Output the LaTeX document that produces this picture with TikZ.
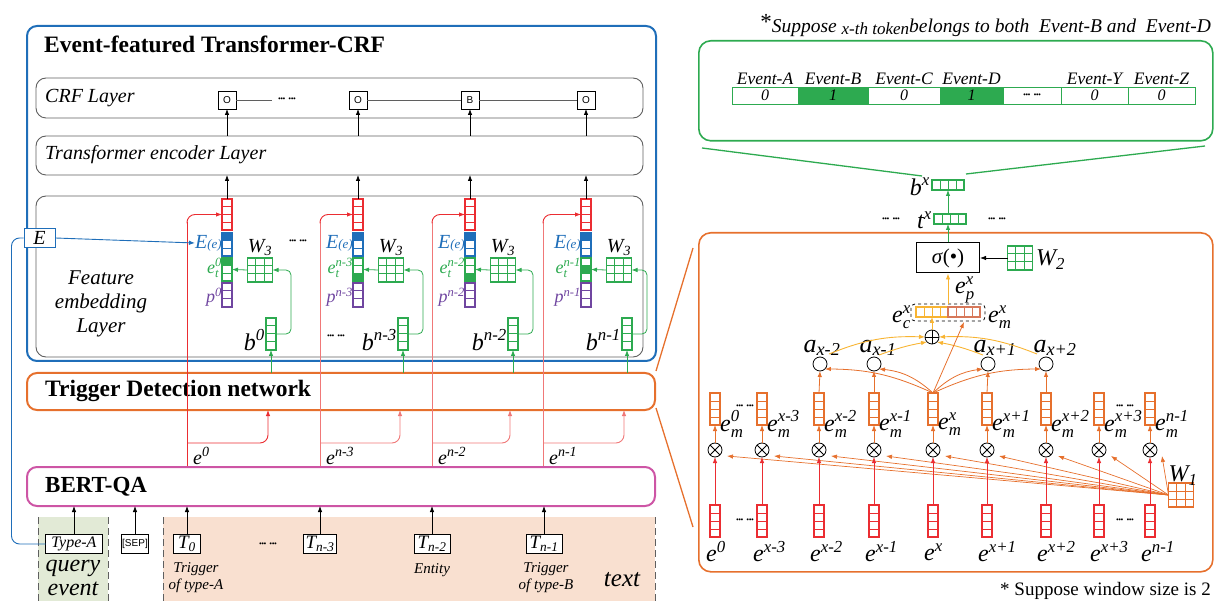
\documentclass[tikz,border=0pt]{standalone}
\usepackage{amsmath}
\usepackage{fontspec}
\setmainfont{Liberation Serif}
\setsansfont{Liberation Sans}
\usetikzlibrary{arrows.meta,calc}
\definecolor{cblue}{RGB}{31,110,185}
\definecolor{corange}{RGB}{230,112,45}
\definecolor{cpink}{RGB}{205,85,165}
\definecolor{cred}{RGB}{235,45,50}
\definecolor{lred}{RGB}{240,120,120}
\definecolor{cgreen}{RGB}{45,170,80}
\definecolor{cpurple}{RGB}{112,70,160}
\definecolor{cyellow}{RGB}{248,180,50}
\definecolor{cbrown}{RGB}{215,120,90}
\definecolor{cgray}{RGB}{95,95,95}
\definecolor{qfill}{RGB}{226,234,214}
\definecolor{tfill}{RGB}{249,224,208}
\newcommand\tx[1]{\text{\itshape #1}}
\newcommand\fs[1]{\fontsize{#1}{#1}\selectfont}
\newcommand\dd{{\fs{8}\textbullet\kern-0.5pt\textbullet\kern-0.5pt\textbullet\kern3pt\textbullet\kern-0.5pt\textbullet\kern-0.5pt\textbullet}}
% vertical vector: name,x,y,n,color,fillidx,cellh
\newcommand\vvec[7]{%
  \node[draw=#5,line width=1.2pt,minimum width=10pt,minimum height={#4*#7pt},inner sep=0pt,outer sep=0pt] (#1) at (#2,#3) {};
  \ifnum#6>0
    \fill[#5] ([yshift={-(#6-1)*#7pt}]#1.north west) rectangle ([yshift={-#6*#7pt}]#1.north east);
  \fi
  \pgfmathtruncatemacro\vvm{#4-1}%
  \foreach \k in {1,...,\vvm}{\draw[#5,line width=1pt] ([yshift={-\k*#7pt}]#1.north west) -- ([yshift={-\k*#7pt}]#1.north east);}
}
% horizontal vector: name,x,y,n,color,cellw
\newcommand\hvec[6]{%
  \node[draw=#5,line width=1.2pt,minimum width={#4*#6pt},minimum height=10pt,inner sep=0pt,outer sep=0pt] (#1) at (#2,#3) {};
  \pgfmathtruncatemacro\vvm{#4-1}%
  \foreach \k in {1,...,\vvm}{\draw[#5,line width=1pt] ([xshift={\k*#6pt}]#1.north west) -- ([xshift={\k*#6pt}]#1.south west);}
}
% 3x3 grid: name,x,y,color
\newcommand\grid[4]{%
  \node[draw=#4,line width=1.2pt,fill=white,minimum width=25pt,minimum height=24pt,inner sep=0pt,outer sep=0pt] (#1) at (#2,#3) {};
  \foreach \k in {1,2}{\draw[#4,line width=1pt] ([xshift={\k*25/3pt}]#1.north west) -- ([xshift={\k*25/3pt}]#1.south west);
    \draw[#4,line width=1pt] ([yshift={-\k*8pt}]#1.north west) -- ([yshift={-\k*8pt}]#1.north east);}
}
\begin{document}
\begin{tikzpicture}[x=1pt,y=-1pt,
  arr/.style={-{Latex[length=6pt,width=4.5pt]}},
  lay/.style={draw=cgray,line width=0.9pt,rounded corners=10pt,anchor=north west,inner sep=0pt,outer sep=0pt},
  big/.style={line width=2pt,rounded corners=10pt,anchor=north west,inner sep=0pt,outer sep=0pt},
  lbl/.style={inner sep=0pt,font=\itshape\fs{18}},
  lblb/.style={inner sep=0pt,font=\itshape\fs{24}},
  tok/.style={draw,fill=white,line width=0.8pt,minimum height=19pt,inner sep=1pt,outer sep=0pt},
  ecell/.style={draw=cgreen,line width=0.9pt,minimum height=17pt,inner sep=0pt,outer sep=0pt,font=\itshape\fs{16}},
  crc/.style={circle,draw,line width=0.8pt,minimum size=14pt,inner sep=0pt,outer sep=0pt},
  dashl/.style={draw=cgray,line width=1pt,dash pattern=on 7pt off 4pt},
  obox/.style={draw,fill=white,line width=0.8pt,minimum width=18pt,minimum height=18pt,inner sep=0pt,outer sep=0pt,font=\sffamily\fs{10}}
]
\useasboundingbox (0,0) rectangle (1218,601);

% ---------- bottom input regions ----------
\fill[qfill] (38,517) rectangle (108,601);
\fill[tfill] (163,517) rectangle (655,601);
\draw[dashl] (38,517) -- (38,601);
\draw[dashl] (108,517) -- (108,601);
\draw[dashl] (163,517) -- (163,601);
\draw[dashl] (655,517) -- (655,601);

% ---------- left layer boxes ----------
\node[big,draw=cblue,minimum width=629pt,minimum height=335pt] (outer) at (27,26) {};
\node[lay,minimum width=607pt,minimum height=40pt] (crf) at (36,78) {};
\node[lay,minimum width=607pt,minimum height=39pt] (tr) at (36,136) {};
\node[lay,minimum width=607pt,minimum height=161pt] (fe) at (36,196) {};
\node[big,draw=corange,minimum width=628pt,minimum height=37pt] (td) at (27,373) {};
\node[big,draw=cpink,minimum width=628pt,minimum height=39pt] (bert) at (27,467) {};

\node[anchor=west,inner sep=0pt,font=\bfseries\fs{23.5}] (t1) at (44,44) {Event-featured Transformer-CRF};
\node[anchor=west,inner sep=0pt,font=\itshape\fs{20}] (t2) at (45,98) {CRF Layer};
\node[anchor=west,inner sep=0pt,font=\itshape\fs{20}] (t3) at (45,155) {Transformer encoder Layer};
\node[align=center,inner sep=0pt,font=\itshape\fontsize{21}{24}\selectfont] (t4) at (101,304) {Feature\\embedding\\Layer};
\node[anchor=west,inner sep=0pt,font=\bfseries\fs{23.5}] (t5) at (45,391) {Trigger Detection network};
\node[anchor=west,inner sep=0pt,font=\bfseries\fs{23}] (t6) at (45,487) {BERT-QA};

% ---------- CRF tags ----------
\node[obox] (o0) at (227,100) {O};
\node[obox] (o1) at (358,100) {O};
\node[obox] (o2) at (470,100) {B};
\node[obox] (o3) at (586,100) {O};
\node[inner sep=0pt] (cd) at (287,100) {\dd};
\draw[cgray,line width=0.8pt] (o0.east) -- ([xshift=-6pt]cd.west);
\draw[cgray,line width=0.8pt] (o1.east) -- (o2.west);
\draw[cgray,line width=0.8pt] (o2.east) -- (o3.west);

% ---------- E box ----------
\node[draw=cblue,fill=white,line width=1pt,minimum width=31pt,minimum height=19pt,inner sep=0pt,font=\itshape\fs{20}] (E) at (39.5,238) {E};

% ---------- feature columns ----------
\foreach \c/\cx/\su/\gf/\lx/\bx/\rc in {0/227/0/1/187/271/cred, 1/358/n-3/3/320/403/lred, 2/470/n-2/3/432/513/lred, 3/586/n-1/2/543/627/lred}{
  \vvec{r\c}{\cx}{214.5}{4}{cred}{0}{7.75}
  \vvec{eb\c}{\cx}{244.5}{3}{cblue}{1}{7.67}
  \vvec{et\c}{\cx}{269.5}{3}{cgreen}{\gf}{7.67}
  \vvec{pp\c}{\cx}{295}{3}{cpurple}{0}{8}
  \grid{w\c}{\cx+33}{270}{cgreen}
  \vvec{b\c}{\bx}{334}{4}{cgreen}{0}{8}
  \node[inner sep=0pt,font=\itshape\fs{20},anchor=south] (wl\c) at ({\cx+33},256) {$\tx{W}_{\tx{3}}$};
  \node[anchor=east,inner sep=0pt,text=cblue,font=\itshape\fs{20}] (ee\c) at ({\cx-5},243) {E\fs{13}(e)};
  \node[lbl,anchor=east,text=cgreen] (etl\c) at ({\cx-5},268) {$\tx{e}^{\tx{\su}}_{\tx{t}}$};
  \node[lbl,anchor=east,text=cpurple] (pl\c) at ({\cx-5},297) {$\tx{p}^{\tx{\su}}$};
  \node[lblb,anchor=east] (bl\c) at ({\bx-6},340) {$\tx{b}^{\tx{\su}}$};
  \node[inner sep=0pt,font=\itshape\fs{20},anchor=west] (el\c) at ({\lx+6},456) {$\tx{e}^{\tx{\su}}$};
  \draw[cgreen,arr,line width=0.8pt,rounded corners=5pt] (b\c.east) -| ({\bx+20},270) -- (w\c.east);
  \draw[cgreen,arr,line width=0.8pt] (w\c.west) -- (et\c.east);
  \draw[arr,line width=0.8pt] (r\c.north) -- (r\c.north |- tr.south);
  \draw[arr,line width=0.8pt] (o\c.south |- tr.north) -- (o\c.south);
  \draw[cgreen,arr,line width=0.8pt] (b\c.south |- td.north) -- (b\c.south);
  \coordinate (ls\c) at (\lx,466);
  \coordinate (lb\c) at (\lx,443);
  \coordinate (lt\c) at ({\bx-3},410);
  \draw[\rc,line width=0.9pt] (ls\c) -- ([yshift=-8pt]ls\c |- r\c.west);
  \draw[cred,arr,line width=0.9pt,rounded corners=8pt] ([yshift=-9pt]ls\c |- r\c.west) |- (r\c.west);
  \draw[\rc,arr,line width=0.9pt,rounded corners=8pt] (lb\c) -| (lt\c);
}
\draw[cblue,arr,line width=0.9pt] (E.east) -- (ee0.west);
\node[inner sep=0pt] (fd1) at (298,242) {\dd};
\node[inner sep=0pt] (fd2) at (336,337) {\dd};

% ---------- tokens ----------
\node[tok,minimum width=57pt,font=\itshape\fs{16}] (typea) at (74,544) {Type-A};
\node[tok,minimum width=25pt,font=\sffamily\fs{10}] (sep) at (135,544) {[SEP]};
\node[tok,minimum width=27pt,font=\itshape\fs{19}] (tk0) at (187,544) {$\tx{T}_{\tx{0}}$};
\node[tok,minimum width=33pt,font=\itshape\fs{19}] (tk1) at (320,544) {$\tx{T}_{\tx{n-3}}$};
\node[tok,minimum width=36pt,font=\itshape\fs{19}] (tk2) at (432,544) {$\tx{T}_{\tx{n-2}}$};
\node[tok,minimum width=36pt,font=\itshape\fs{19}] (tk3) at (544,544) {$\tx{T}_{\tx{n-1}}$};
\foreach \n in {typea,sep,tk0,tk1,tk2,tk3}{\draw[arr,line width=0.8pt] (\n.north) -- (\n.north |- bert.south);}
\node[inner sep=0pt] (td1) at (268,545) {\dd};
\draw[cblue,line width=0.9pt,rounded corners=8pt] (E.west) -- ++(-12,0) |- (typea.west);
\node[align=center,inner sep=0pt,font=\itshape\fontsize{15}{17}\selectfont] (lt0) at (196,578) {Trigger\\of type-A};
\node[inner sep=0pt,font=\itshape\fs{15}] (lt2) at (432,570) {Entity};
\node[align=center,inner sep=0pt,font=\itshape\fontsize{15}{17}\selectfont] (lt3) at (546,578) {Trigger\\of type-B};
\node[inner sep=0pt,font=\itshape\fs{25}] (ltx) at (622,580) {text};
\node[align=center,inner sep=0pt,font=\itshape\fontsize{24}{24}\selectfont] (lq) at (73,578) {query\\event};

% ---------- right: green event box ----------
\node[anchor=east,inner sep=0pt,font=\itshape\fs{19.5}] (note) at (1211,26) {{\upshape\fs{23}\raisebox{3pt}{*}}Suppose {\fs{17}\raisebox{-2pt}{x-th token}}belongs to both\ \ Event-B and\ \ Event-D};
\node[draw=cgreen,line width=1.6pt,rounded corners=12pt,minimum width=514pt,minimum height=100pt,anchor=north west,inner sep=0pt] (gbox) at (698,40) {};
\node[ecell,minimum width=66pt] (c1) at (765,95.5) {0};
\node[ecell,minimum width=70pt,fill=cgreen] (c2) at (833,95.5) {1};
\node[ecell,minimum width=72pt] (c3) at (904,95.5) {0};
\node[ecell,minimum width=63pt,fill=cgreen] (c4) at (971.5,95.5) {1};
\node[ecell,minimum width=58pt] (c5) at (1032,95.5) {\dd};
\node[ecell,minimum width=67pt] (c6) at (1094.5,95.5) {0};
\node[ecell,minimum width=67pt] (c7) at (1161.5,95.5) {0};
\foreach \n/\t in {c1/Event-A,c2/Event-B,c3/Event-C,c4/Event-D,c6/Event-Y,c7/Event-Z}{
  \node[anchor=south,inner sep=0pt,font=\itshape\fs{17.5}] at ([yshift=2pt]\n.north) {\t};}
\coordinate (gl1) at (702,148); \coordinate (gl2) at (922,176);
\coordinate (gr1) at (1205,146); \coordinate (gr2) at (966,174);
\draw[cgreen,line width=1.3pt] (gl1) -- (gl2);
\draw[cgreen,line width=1.3pt] (gr1) -- (gr2);

\hvec{bx}{948}{185}{4}{cgreen}{8}
\node[lblb,anchor=east] (bxl) at ([xshift=-2pt,yshift=-2pt]bx.west) {$\tx{b}^{\tx{x}}$};
\hvec{tvec}{950}{219}{4}{cgreen}{8}
\node[lblb,anchor=east] (tvl) at ([xshift=-2pt,yshift=-1pt]tvec.west) {$\tx{t}^{\tx{x}}$};
\node[inner sep=0pt] (tdl) at (891,220) {\dd};
\node[inner sep=0pt] (tdr) at (997,220) {\dd};
\draw[cgreen,arr,line width=0.8pt] (bx.south |- tvec.north) -- (bx.south);

% ---------- right: orange box ----------
\node[draw=corange,line width=1.6pt,rounded corners=12pt,minimum width=514pt,minimum height=339pt,anchor=north west,inner sep=0pt] (obx) at (698,232) {};
\coordinate (z1) at (656,371); \coordinate (z2) at (693,248);
\coordinate (z3) at (656,408); \coordinate (z4) at (693,527);
\draw[corange,line width=1.3pt] (z1) -- (z2);
\draw[corange,line width=1.3pt] (z3) -- (z4);

\node[draw,line width=1pt,minimum width=63pt,minimum height=30pt,inner sep=0pt,font=\fs{21}] (sig) at (948,258) {\textit{σ}(•)};
\grid{w2}{1020}{258}{cgreen}
\node[lblb,anchor=west] (w2l) at (1036,260) {$\tx{W}_{\tx{2}}$};
\draw[arr,line width=0.8pt] (w2.west) -- (sig.east);
\draw[cgreen,arr,line width=0.8pt] (sig.north) -- (sig.north |- tvec.south);

\node[draw,dashed,line width=0.8pt,rounded corners=4pt,minimum width=74pt,minimum height=17pt,inner sep=0pt] (cc) at (948,312.5) {};
\hvec{cl}{932}{312}{4}{cyellow}{8}
\hvec{cr}{964}{312}{4}{cbrown}{8}
\node[lblb] (epl) at (965,290) {$\tx{e}^{\tx{x}}_{\tx{p}}$};
\node[lblb,anchor=east] (ecl) at (911,317) {$\tx{e}^{\tx{x}}_{\tx{c}}$};
\node[lblb,anchor=west] (eml) at (988,317) {$\tx{e}^{\tx{x}}_{\tx{m}}$};
\draw[cyellow,arr,line width=0.9pt] (cc.north) -- (sig.south);

\node[crc] (plus) at (932,337) {};
\draw[line width=0.8pt] (plus.north) -- (plus.south) (plus.west) -- (plus.east);
\draw[cyellow,arr,line width=0.9pt] (plus.north) -- (plus.north |- cl.south);

\node[crc] (a1) at (820,364) {};
\node[crc] (a2) at (874,364) {};
\node[crc] (a3) at (988,364) {};
\node[crc] (a4) at (1046,364) {};
\node[inner sep=0pt,font=\itshape\fs{26}] (al1) at (822,348) {$\tx{a}_{\tx{x-2}}$};
\node[inner sep=0pt,font=\itshape\fs{26}] (al2) at (878,348) {$\tx{a}_{\tx{x-1}}$};
\node[inner sep=0pt,font=\itshape\fs{26}] (al3) at (995,348) {$\tx{a}_{\tx{x+1}}$};
\node[inner sep=0pt,font=\itshape\fs{26}] (al4) at (1055,348) {$\tx{a}_{\tx{x+2}}$};
\draw[cyellow,arr,line width=0.9pt] ([xshift=4pt,yshift=5pt]a1.north east) to[bend left=12] (plus.west);
\draw[cyellow,arr,line width=0.9pt] ([yshift=4pt]a2.north east) to[bend left=5] (plus.south west);
\draw[cyellow,arr,line width=0.9pt] ([yshift=4pt]a3.north west) to[bend right=5] (plus.south east);
\draw[cyellow,arr,line width=0.9pt] ([xshift=-4pt,yshift=5pt]a4.north west) to[bend right=12] (plus.east);

% ---------- right: token rows ----------
\grid{w1}{1181}{495}{corange}
\node[lblb] (w1l) at (1183,476) {$\tx{W}_{\tx{1}}$};
\foreach \i/\xx/\su in {1/715/0, 2/762/x-3, 3/819/x-2, 4/874/x-1, 5/933/x, 6/987/x+1, 7/1046/x+2, 8/1099/x+3, 9/1150/n-1}{
  \vvec{em\i}{\xx}{409}{4}{corange}{0}{8}
  \node[crc] (m\i) at (\xx,450) {};
  \draw[line width=0.8pt] (m\i.north east) -- (m\i.south west) (m\i.north west) -- (m\i.south east);
  \vvec{ev\i}{\xx}{521}{4}{cred}{0}{8}
  \node[lblb,anchor=west] (eml\i) at ({\xx+5},424) {$\tx{e}^{\tx{\su}}_{\tx{m}}$};
  \node[lblb,anchor=west] (evl\i) at ({\xx-9},552) {$\tx{e}^{\tx{\su}}$};
  \draw[corange,arr,line width=0.8pt] (m\i.north) -- (em\i.south);
  \draw[cred,arr,line width=0.8pt] (ev\i.north) -- (m\i.south);
  \draw[corange,arr,line width=0.7pt] (w1.west) -- ($(m\i.east)+(5,6)$);
}
\node[inner sep=0pt] (rd1) at (745,407) {\dd};
\node[inner sep=0pt] (rd2) at (1125,407) {\dd};
\node[inner sep=0pt] (rd3) at (745,521) {\dd};
\node[inner sep=0pt] (rd4) at (1125,521) {\dd};
\draw[corange,arr,line width=0.8pt] (em3.north) -- (a1.south);
\draw[corange,arr,line width=0.8pt] (em4.north) -- (a2.south);
\draw[corange,arr,line width=0.8pt] (em6.north) -- (a3.south);
\draw[corange,arr,line width=0.8pt] (em7.north) -- (a4.south);
\draw[corange,arr,line width=0.8pt] (em5.north) to[bend right=12] (a1.south east);
\draw[corange,arr,line width=0.8pt] (em5.north) to[bend right=18] (a2.south east);
\draw[corange,arr,line width=0.8pt] (em5.north) to[bend left=18] (a3.south west);
\draw[corange,arr,line width=0.8pt] (em5.north) to[bend left=12] (a4.south west);
\draw[corange,arr,line width=0.8pt] (em5.north) -- ([yshift=-5pt]cr.south);

\node[anchor=east,inner sep=0pt,font=\fs{19}] (note2) at (1211,591) {* Suppose window size is 2};
\end{tikzpicture}
\end{document}
